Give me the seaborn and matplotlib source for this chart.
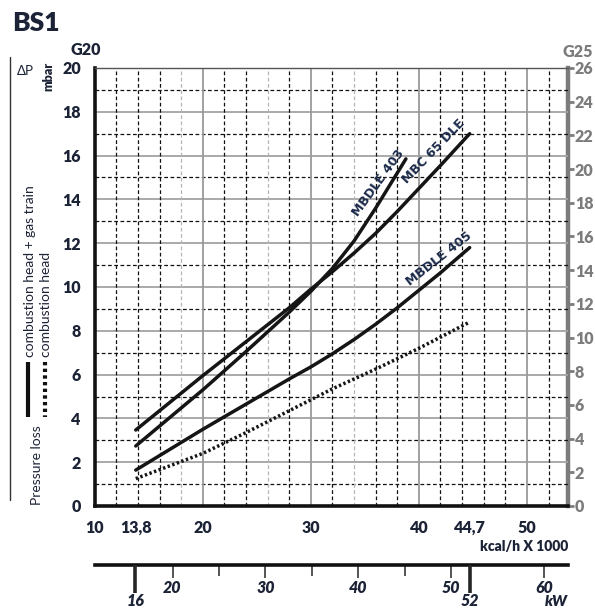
import numpy as np
import pandas as pd
import matplotlib
matplotlib.use('Agg')
import matplotlib.pyplot as plt
from matplotlib.lines import Line2D
import seaborn as sns

# burner capacity (kcal/h x 1000) vs pressure loss (mbar, G20)
mbc65_x = [13.8, 20, 24, 28, 30, 32, 34, 36, 38, 40, 42, 44.7]
mbc65_y = [3.47, 5.95, 7.5, 9.05, 9.9, 10.7, 11.55, 12.45, 13.45, 14.5, 15.55, 17.0]
mbdle403_x = [13.8, 20, 24, 28, 30, 32, 34, 36, 38.8]
mbdle403_y = [2.74, 5.3, 7.05, 8.85, 9.8, 10.85, 12.1, 13.6, 15.85]
mbdle405_x = [13.8, 20, 24, 28, 30, 32, 34, 36, 38, 40, 42, 44.7]
mbdle405_y = [1.64, 3.5, 4.65, 5.8, 6.35, 6.95, 7.6, 8.3, 9.05, 9.85, 10.65, 11.8]
head_x = [13.8, 20, 24, 28, 32, 36, 40, 44.7]
head_y = [1.25, 2.4, 3.35, 4.35, 5.35, 6.25, 7.2, 8.4]

curve_names = ['MBC 65 DLE', 'MBDLE 403', 'MBDLE 405', 'head']
# label placement: (x, y, rotation)
curve_labels = {'MBC 65 DLE': (41.4, 16.2, 46),
                'MBDLE 403': (36.3, 14.75, 54),
                'MBDLE 405': (41.9, 11.3, 38)}

kcal_ticks = [10, 13.8, 20, 30, 40, 44.7, 50]
kcal_labels = ['10', '13,8', '20', '30', '40', '44,7', '50']
kcal_strong = [10, 13.8, 44.7]
kw_ticks = [20, 30, 40, 50, 60]
kw_minor = [25, 35, 45]
kw_strong = [16, 52]
g20_ticks = list(range(0, 21, 2))
g25_ticks = list(range(0, 27, 2))
KCAL_PER_KW = 0.86

df = pd.concat([
    pd.DataFrame({'kcal': x, 'mbar': y, 'curve': n})
    for n, x, y in zip(curve_names,
                       [mbc65_x, mbdle403_x, mbdle405_x, head_x],
                       [mbc65_y, mbdle403_y, mbdle405_y, head_y])
], ignore_index=True)

sns.set_style('white')
plt.rcParams['font.family'] = ['Lato', 'DejaVu Sans']
NAVY = '#1c2336'
GRAY = '#7c7c7c'
TICK_FS = 11.5

W, H = 595, 609
fig = plt.figure(figsize=(W / 100, H / 100), dpi=100)
x0, x1, y0, y1 = 94.7, 568, 506, 68
ax = fig.add_axes([x0 / W, 1 - y0 / H, (x1 - x0) / W, (y0 - y1) / H])
ax.set_xlim(10, 53.8)
ax.set_ylim(0, 20)

# grid
for v in range(1, 20):
    if v % 2 == 0:
        ax.axhline(v, color='#a3a3a3', lw=1.3, zorder=1)
    else:
        ax.axhline(v, color='#111111', lw=0.9, ls=(0, (3, 2)), zorder=1)
for v in range(12, 54, 2):
    if v % 10 == 0:
        ax.axvline(v, color='#9a9a9a', lw=1.3, zorder=1)
    elif v in (18, 26, 34):
        ax.axvline(v, color='#b5b5b5', lw=0.9, ls=(0, (3, 2)), zorder=1)
    else:
        ax.axvline(v, color='#111111', lw=0.9, ls=(0, (3, 2)), zorder=1)

sns.lineplot(data=df, x='kcal', y='mbar', hue='curve', style='curve',
             palette={n: '#151515' for n in curve_names},
             dashes={'MBC 65 DLE': '', 'MBDLE 403': '', 'MBDLE 405': '',
                     'head': (0.7, 0.7)},
             lw=2.5, sort=False, estimator=None, legend=False, ax=ax, zorder=3)
for line in ax.get_lines()[-4:]:
    line.set_solid_joinstyle('round')

for name, (lx, ly, rot) in curve_labels.items():
    ax.text(lx, ly, name, rotation=rot, rotation_mode='anchor', ha='center',
            va='center', fontsize=9, fontweight='bold', color='#1b2a4a',
            family=['Liberation Sans Narrow', 'DejaVu Sans'], zorder=4)

# spines
for s in ['left', 'bottom']:
    ax.spines[s].set_color('#111111')
    ax.spines[s].set_linewidth(2.6)
ax.spines['top'].set_color('#555555')
ax.spines['top'].set_linewidth(1.0)
ax.spines['right'].set_visible(False)

# x ticks (kcal/h)
ax.set_xticks(kcal_ticks, kcal_labels)
ax.set_xticks([v for v in range(12, 54, 2) if v % 10 != 0], minor=True)
ax.tick_params(axis='x', which='major', direction='out', length=8, width=2.5,
               pad=2, labelsize=TICK_FS, labelcolor=NAVY)
ax.tick_params(axis='x', which='minor', direction='out', length=3, width=0.9,
               color='#111111')
for t, v in zip(ax.xaxis.get_major_ticks(), kcal_ticks):
    if v not in kcal_strong:
        t.tick1line.set_markersize(4)
        t.tick1line.set_markeredgewidth(1.2)
        t.tick1line.set_color('#9a9a9a')
for lab in ax.get_xticklabels():
    lab.set_fontweight('heavy')

# y ticks (G20)
ax.set_yticks(g20_ticks)
ax.set_yticks(range(1, 20, 2), minor=True)
ax.tick_params(axis='y', which='major', direction='out', length=9, width=1.2,
               color='#9a9a9a', pad=1, labelsize=TICK_FS, labelcolor=NAVY)
ax.tick_params(axis='y', which='minor', direction='out', length=5, width=0.9,
               color='#111111')
for lab in ax.get_yticklabels():
    lab.set_fontweight('heavy')
ax.set_xlabel('')
ax.set_ylabel('')

# right axis (G25)
sec = ax.secondary_yaxis('right', functions=(lambda v: v * 1.3, lambda v: v / 1.3))
sec.set_yticks(g25_ticks)
sec.spines['right'].set_color(GRAY)
sec.spines['right'].set_linewidth(3.2)
sec.tick_params(axis='y', direction='out', length=4, width=2, color=GRAY,
                pad=1, labelsize=TICK_FS, labelcolor=GRAY)
for lab in sec.get_yticklabels():
    lab.set_fontweight('heavy')

# kW axis
ax2 = fig.add_axes([x0 / W, 1 - 565 / H, (x1 - x0) / W, 0.0001])
ax2.set_xlim(10 / KCAL_PER_KW, 53.8 / KCAL_PER_KW)
ax2.set_yticks([])
for s in ['left', 'right', 'top']:
    ax2.spines[s].set_visible(False)
ax2.spines['bottom'].set_linewidth(2.6)
ax2.spines['bottom'].set_color('#111111')
ax2.patch.set_visible(False)
ax2.set_xticks(kw_ticks, [str(v) for v in kw_ticks])
ax2.set_xticks(kw_minor, minor=True)
ax2.tick_params(axis='x', which='major', direction='out', length=9, width=1.1,
                pad=1.5, labelsize=TICK_FS, labelcolor=NAVY)
ax2.tick_params(axis='x', which='minor', direction='out', length=8, width=1.1)
for lab in ax2.get_xticklabels():
    lab.set_fontweight('heavy')
    lab.set_fontstyle('italic')

ax3 = ax2.twiny()
ax3.set_xlim(ax2.get_xlim())
ax3.xaxis.set_ticks_position('bottom')
ax3.xaxis.set_label_position('bottom')
for s in ax3.spines.values():
    s.set_visible(False)
ax3.set_xticks(kw_strong, [str(v) for v in kw_strong])
ax3.tick_params(axis='x', direction='out', length=20, width=2.6, pad=0.5,
                labelsize=TICK_FS, labelcolor=NAVY)
for lab in ax3.get_xticklabels():
    lab.set_fontweight('heavy')
    lab.set_fontstyle('italic')

# texts around the chart
fig.text(12 / W, 1 - 23 / H, 'BS1', fontsize=19, fontweight='heavy', color=NAVY,
         va='center', ha='left')
fig.text(86 / W, 1 - 50 / H, 'G20', fontsize=11.5, fontweight='heavy',
         color=NAVY, ha='center', va='center')
fig.text(578 / W, 1 - 52 / H, 'G25', fontsize=11.5, fontweight='heavy',
         color=GRAY, ha='center', va='center')
fig.text(25 / W, 1 - 71 / H, 'ΔP', fontsize=9.5, color=NAVY, ha='center',
         va='center')
fig.text(48 / W, 1 - 76 / H, 'mbar', fontsize=9, fontweight='heavy', color=NAVY,
         rotation=90, ha='center', va='center')
fig.text(568 / W, 1 - 546 / H, 'kcal/h X 1000', fontsize=10,
         fontweight='heavy', color=NAVY, ha='right', va='center')
fig.text(568 / W, 1 - 602 / H, 'kW', fontsize=11, fontweight='heavy',
         fontstyle='italic', color=NAVY, ha='right', va='center')

fig.add_artist(Line2D([10 / W, 10 / W], [1 - 57 / H, 1 - 500 / H],
                      transform=fig.transFigure, lw=1.0, color='#333333'))
fig.text(37 / W, 1 - 505 / H, 'Pressure loss', fontsize=10, color=NAVY,
         rotation=90, ha='center', va='bottom')
fig.add_artist(Line2D([28 / W, 28 / W], [1 - 362 / H, 1 - 417 / H],
                      transform=fig.transFigure, lw=3, color='#111111',
                      solid_capstyle='butt'))
fig.add_artist(Line2D([45 / W, 45 / W], [1 - 362 / H, 1 - 417 / H],
                      transform=fig.transFigure, lw=3, color='#111111',
                      ls=(0, (0.8, 0.8))))
fig.text(30 / W, 1 - 357 / H, 'combustion head + gas train', fontsize=10,
         color=NAVY, rotation=90, ha='center', va='bottom')
fig.text(46 / W, 1 - 357 / H, 'combustion head', fontsize=10, color=NAVY,
         rotation=90, ha='center', va='bottom')

fig.savefig('out.png', dpi=100)
